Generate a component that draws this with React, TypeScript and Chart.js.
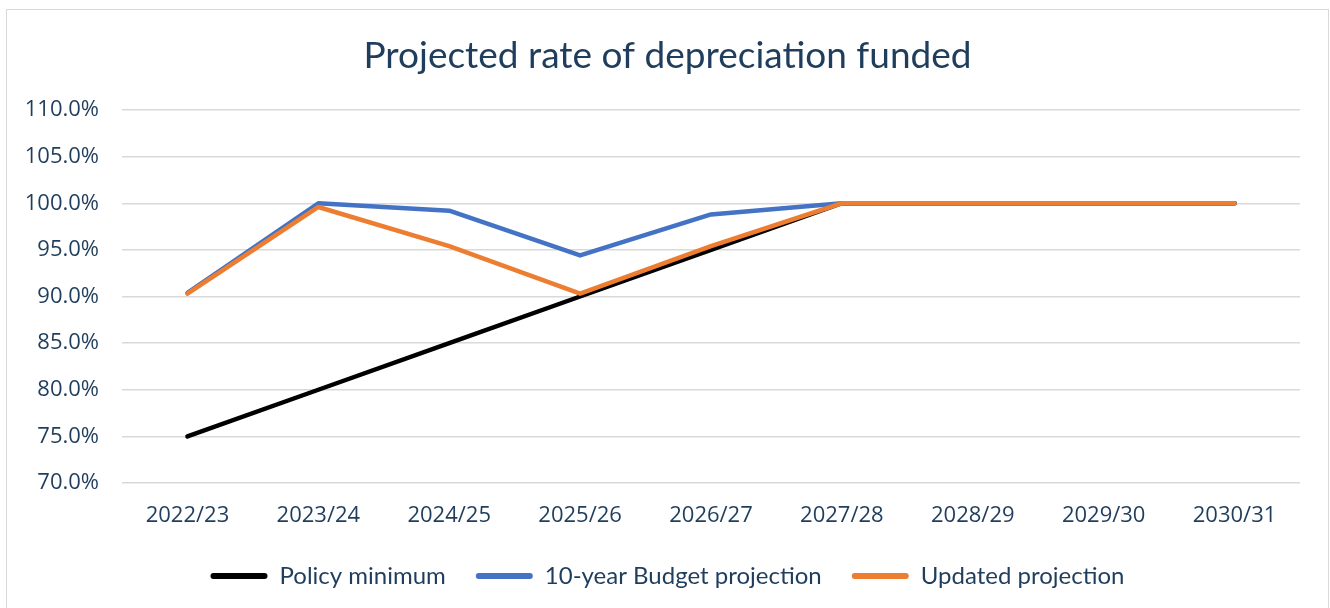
import React, { useEffect, useRef } from "react";
import { Chart, registerables } from "chart.js";

Chart.register(...registerables);

const categories = ["2022/23", "2023/24", "2024/25", "2025/26", "2026/27", "2027/28", "2028/29", "2029/30", "2030/31"];
const policyMinimum = [75, 80, 85, 90, 95, 100, 100, 100, 100];
const budgetProjection = [90.4, 100, 99.2, 94.4, 98.8, 100, 100, 100, 100];
const updatedProjection = [90.3, 99.6, 95.4, 90.3, 95.4, 100, 100, 100, 100];
const seriesNames = ["Policy minimum", "10-year Budget projection", "Updated projection"];
const titleText = "Projected rate of depreciation funded";

const TEXT = "#1f3d5c";

export default function App() {
  const ref = useRef<HTMLCanvasElement | null>(null);

  useEffect(() => {
    if (!ref.current) return;
    const chart = new Chart(ref.current, {
      type: "line",
      data: {
        labels: categories,
        datasets: [
          { label: seriesNames[0], data: policyMinimum, borderColor: "#000000", backgroundColor: "#000000", order: 3 },
          { label: seriesNames[1], data: budgetProjection, borderColor: "#4472c4", backgroundColor: "#4472c4", order: 2 },
          { label: seriesNames[2], data: updatedProjection, borderColor: "#ed7d31", backgroundColor: "#ed7d31", order: 1 },
        ],
      },
      options: {
        responsive: false,
        animation: false,
        layout: { padding: { left: 6, right: 1, top: 0, bottom: 10 } },
        elements: {
          line: { borderWidth: 4.5, borderCapStyle: "round", borderJoinStyle: "round", tension: 0 },
          point: { radius: 0, hoverRadius: 0 },
        },
        scales: {
          x: {
            offset: true,
            grid: { display: false },
            border: { display: false },
            ticks: { color: TEXT, font: { family: "Open Sans", size: 22 }, padding: 12, maxRotation: 0 },
            afterFit: (s: any) => { s.height = 51; },
          },
          y: {
            min: 70,
            max: 110,
            grid: { color: "#d9d9d9", lineWidth: 1.5, drawTicks: false },
            border: { display: false },
            ticks: {
              stepSize: 5,
              color: TEXT,
              font: { family: "Open Sans", size: 22 },
              padding: 23,
              callback: (v: any) => Number(v).toFixed(1) + "%",
            },
            afterFit: (s: any) => { s.width = 116; },
          },
          y2: {
            position: "right",
            display: true,
            grid: { display: false },
            border: { display: false },
            ticks: { display: false },
            afterFit: (s: any) => { s.width = 29; },
          },
        },
        plugins: {
          title: {
            display: true,
            text: titleText,
            color: TEXT,
            font: { family: "Lato", size: 37, weight: "normal" },
            padding: { top: 34, bottom: 31.6 },
          },
          legend: {
            position: "bottom",
            labels: {
              color: TEXT,
              font: { family: "Lato", size: 24 },
              boxWidth: 57,
              boxHeight: 6,
              padding: 30,
              sort: (a: any, b: any) => a.datasetIndex - b.datasetIndex,
              generateLabels: (c: any) => {
                const items = Chart.defaults.plugins.legend.labels.generateLabels(c);
                return items.map((it: any) => ({ ...it, lineWidth: 0, fillStyle: it.strokeStyle, borderRadius: 3 }));
              },
            },
          },
          tooltip: { enabled: false },
        },
      } as any,
    });
    return () => chart.destroy();
  }, []);

  return (
    <div>
      <div
        style={{
          position: "fixed",
          left: 6,
          top: 9,
          width: 1323,
          height: 700,
          border: "1.5px solid #d9d9d9",
          boxSizing: "border-box",
          background: "#fff",
        }}
      />
      <canvas ref={ref} width={1330} height={608} style={{ position: "fixed", left: 0, top: 0 }} />
    </div>
  );
}
